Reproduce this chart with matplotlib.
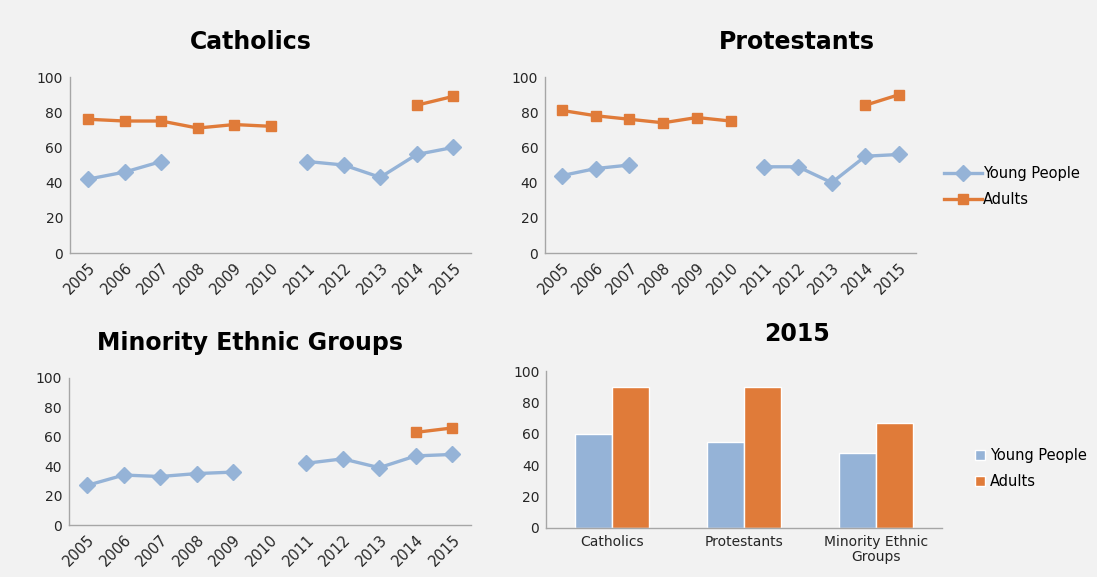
import numpy as np
import matplotlib
matplotlib.use("Agg")
import matplotlib.pyplot as plt

years = ["2005", "2006", "2007", "2008", "2009", "2010",
         "2011", "2012", "2013", "2014", "2015"]

# None = no survey value for that year
catholics_young = [42, 46, 52, None, None, None, 52, 50, 43, 56, 60]
catholics_adults = [76, 75, 75, 71, 73, 72, None, None, None, 84, 89]
protestants_young = [44, 48, 50, None, None, None, 49, 49, 40, 55, 56]
protestants_adults = [81, 78, 76, 74, 77, 75, None, None, None, 84, 90]
minority_young = [27, 34, 33, 35, 36, None, 42, 45, 39, 47, 48]
minority_adults = [None, None, None, None, None, None, None, None, None, 63, 66]

groups_2015 = ["Catholics", "Protestants", "Minority Ethnic\nGroups"]
young_2015 = [60, 55, 48]
adults_2015 = [90, 90, 67]

BLUE = "#95B3D7"
ORANGE = "#E07B39"
BG = "#F2F2F2"
AXIS = "#A6A6A6"

plt.rcParams['font.family'] = ['DejaVu Sans']

fig = plt.figure(figsize=(10.97, 5.77), dpi=100, facecolor=BG)


def to_arr(vals):
    return np.array([np.nan if v is None else v for v in vals], dtype=float)


def style_axes(ax):
    ax.set_facecolor(BG)
    for s in ["top", "right"]:
        ax.spines[s].set_visible(False)
    for s in ["left", "bottom"]:
        ax.spines[s].set_color(AXIS)
        ax.spines[s].set_linewidth(1.0)
    ax.set_ylim(0, 100)
    ax.set_yticks(range(0, 101, 20))
    ax.tick_params(length=0, labelsize=10, colors="#262626", pad=5)


def line_panel(rect, young, adults):
    ax = fig.add_axes(rect)
    x = np.arange(len(years))
    ax.plot(x, to_arr(young), color=BLUE, lw=2.4, marker="D", ms=8,
            label="Young People")
    ax.plot(x, to_arr(adults), color=ORANGE, lw=2.4, marker="s", ms=7,
            label="Adults")
    style_axes(ax)
    ax.set_xlim(-0.5, len(years) - 0.5)
    ax.set_xticks(x)
    ax.set_xticklabels(years, rotation=45, ha="right", rotation_mode="anchor")
    ax.tick_params(axis="x", labelsize=10.5, pad=5)
    return ax


ax1 = line_panel([0.0638, 0.5615, 0.366, 0.305], catholics_young, catholics_adults)
ax2 = line_panel([0.497, 0.5615, 0.338, 0.305], protestants_young, protestants_adults)
ax3 = line_panel([0.0629, 0.090, 0.366, 0.255], minority_young, minority_adults)

ax2.legend(loc="center left", bbox_to_anchor=(1.04, 0.38), frameon=False,
           fontsize=10.5, handlelength=2.6, handletextpad=0.1, labelspacing=0.75)

# 2015 bar chart
ax4 = fig.add_axes([0.498, 0.085, 0.361, 0.272])
xb = np.arange(len(groups_2015))
w = 0.28
ax4.bar(xb - w / 2, young_2015, width=w, color=BLUE, edgecolor="white",
        linewidth=1, label="Young People")
ax4.bar(xb + w / 2, adults_2015, width=w, color=ORANGE, edgecolor="white",
        linewidth=1, label="Adults")
style_axes(ax4)
ax4.set_xlim(-0.5, len(groups_2015) - 0.5)
ax4.set_xticks(xb)
ax4.set_xticklabels(groups_2015, fontsize=10, linespacing=1.1)
ax4.legend(loc="center left", bbox_to_anchor=(1.05, 0.38), frameon=False,
           fontsize=10.5, handlelength=0.7, handleheight=0.7,
           handletextpad=0.3, labelspacing=0.75)

# panel titles
title_kw = dict(fontsize=17, fontweight="bold", ha="center", va="center",
                color="black")
fig.text(251 / 1097, 1 - 42 / 577, "Catholics", **title_kw)
fig.text(797 / 1097, 1 - 42 / 577, "Protestants", **title_kw)
fig.text(250 / 1097, 1 - 343 / 577, "Minority Ethnic Groups", **title_kw)
fig.text(797 / 1097, 1 - 334 / 577, "2015", **title_kw)

fig.savefig("out.png", dpi=100, facecolor=BG)
